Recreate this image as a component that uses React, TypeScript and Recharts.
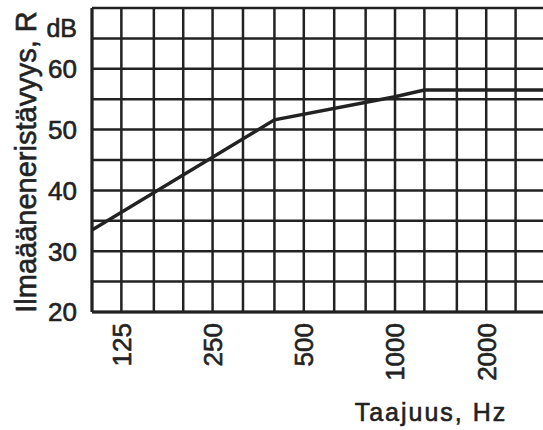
import { CartesianGrid, Line, LineChart, XAxis, YAxis } from "recharts";

// breakpoints of the insulation curve
const frequencies = [100, 400, 1000, 1250, 3150];
const insulation = [33.5, 51.6, 55.4, 56.5, 56.5];

// third-octave grid and labelled octaves
const xGridTicks = [100, 125, 160, 200, 250, 315, 400, 500, 630, 800, 1000, 1250, 1600, 2000, 2500, 3150];
const xLabels = [125, 250, 500, 1000, 2000];
const yGridTicks = [20, 25, 30, 35, 40, 45, 50, 55, 60, 65, 70];
const yLabels = [20, 30, 40, 50, 60];
const yUnit = "dB";
const yTitle = "Ilmaääneneristävyys, R";
const xTitle = "Taajuus, Hz";

const data = frequencies.map((freq, i) => ({ freq, r: insulation[i] }));

const ink = "#222";
const font = "'Liberation Sans', Arial, sans-serif";
// slight outline so the type looks as heavy as the printed original
const textStyle = { fontFamily: font, fill: ink, stroke: ink, strokeWidth: 0.6 };

function XTick({ x, y, payload }: any) {
  if (!xLabels.includes(payload.value)) return <g />;
  return (
    <text
      x={x}
      y={y}
      dy="0.36em"
      transform={`rotate(-90 ${x} ${y})`}
      textAnchor="end"
      fontSize={26}
      {...textStyle}
    >
      {payload.value}
    </text>
  );
}

function YTick({ x, y, payload }: any) {
  if (payload.value === 70) {
    return (
      <text x={x} y={y + 20} dy="0.36em" textAnchor="end" fontSize={25} {...textStyle}>
        {yUnit}
      </text>
    );
  }
  if (!yLabels.includes(payload.value)) return <g />;
  return (
    <text x={x} y={y} dy="0.36em" textAnchor="end" fontSize={26} {...textStyle}>
      {payload.value}
    </text>
  );
}

export default function App() {
  return (
    <div
      style={{
        position: "fixed",
        top: 0,
        left: 0,
        width: 543,
        height: 430,
        overflow: "hidden",
        background: "#fff",
      }}
    >
      <LineChart width={546} height={430} data={data} margin={{ top: 8, right: 0, bottom: 0, left: 0 }}>
        <CartesianGrid stroke={ink} strokeWidth={2.5} />
        <XAxis
          dataKey="freq"
          type="number"
          scale="log"
          domain={[100, 3150]}
          allowDataOverflow
          ticks={xGridTicks}
          interval={0}
          height={118}
          tickSize={0}
          tickMargin={11}
          tickLine={false}
          axisLine={{ stroke: ink, strokeWidth: 3 }}
          tick={<XTick />}
          label={{
            content: () => (
              <text
                x={431}
                y={421}
                textAnchor="middle"
                fontSize={25}
                letterSpacing={2}
                {...textStyle}
              >
                {xTitle}
              </text>
            ),
          }}
        />
        <YAxis
          type="number"
          domain={[20, 70]}
          ticks={yGridTicks}
          interval={0}
          width={92}
          tickSize={0}
          tickMargin={15}
          tickLine={false}
          axisLine={{ stroke: ink, strokeWidth: 3 }}
          tick={<YTick />}
          label={{
            content: () => (
              <text
                x={26}
                y={162}
                dy="0.36em"
                transform="rotate(-90 26 162)"
                textAnchor="middle"
                fontSize={29}
                {...textStyle}
              >
                {yTitle}
              </text>
            ),
          }}
        />
        <Line
          type="linear"
          dataKey="r"
          stroke={ink}
          strokeWidth={3.5}
          dot={false}
          isAnimationActive={false}
        />
      </LineChart>
    </div>
  );
}
